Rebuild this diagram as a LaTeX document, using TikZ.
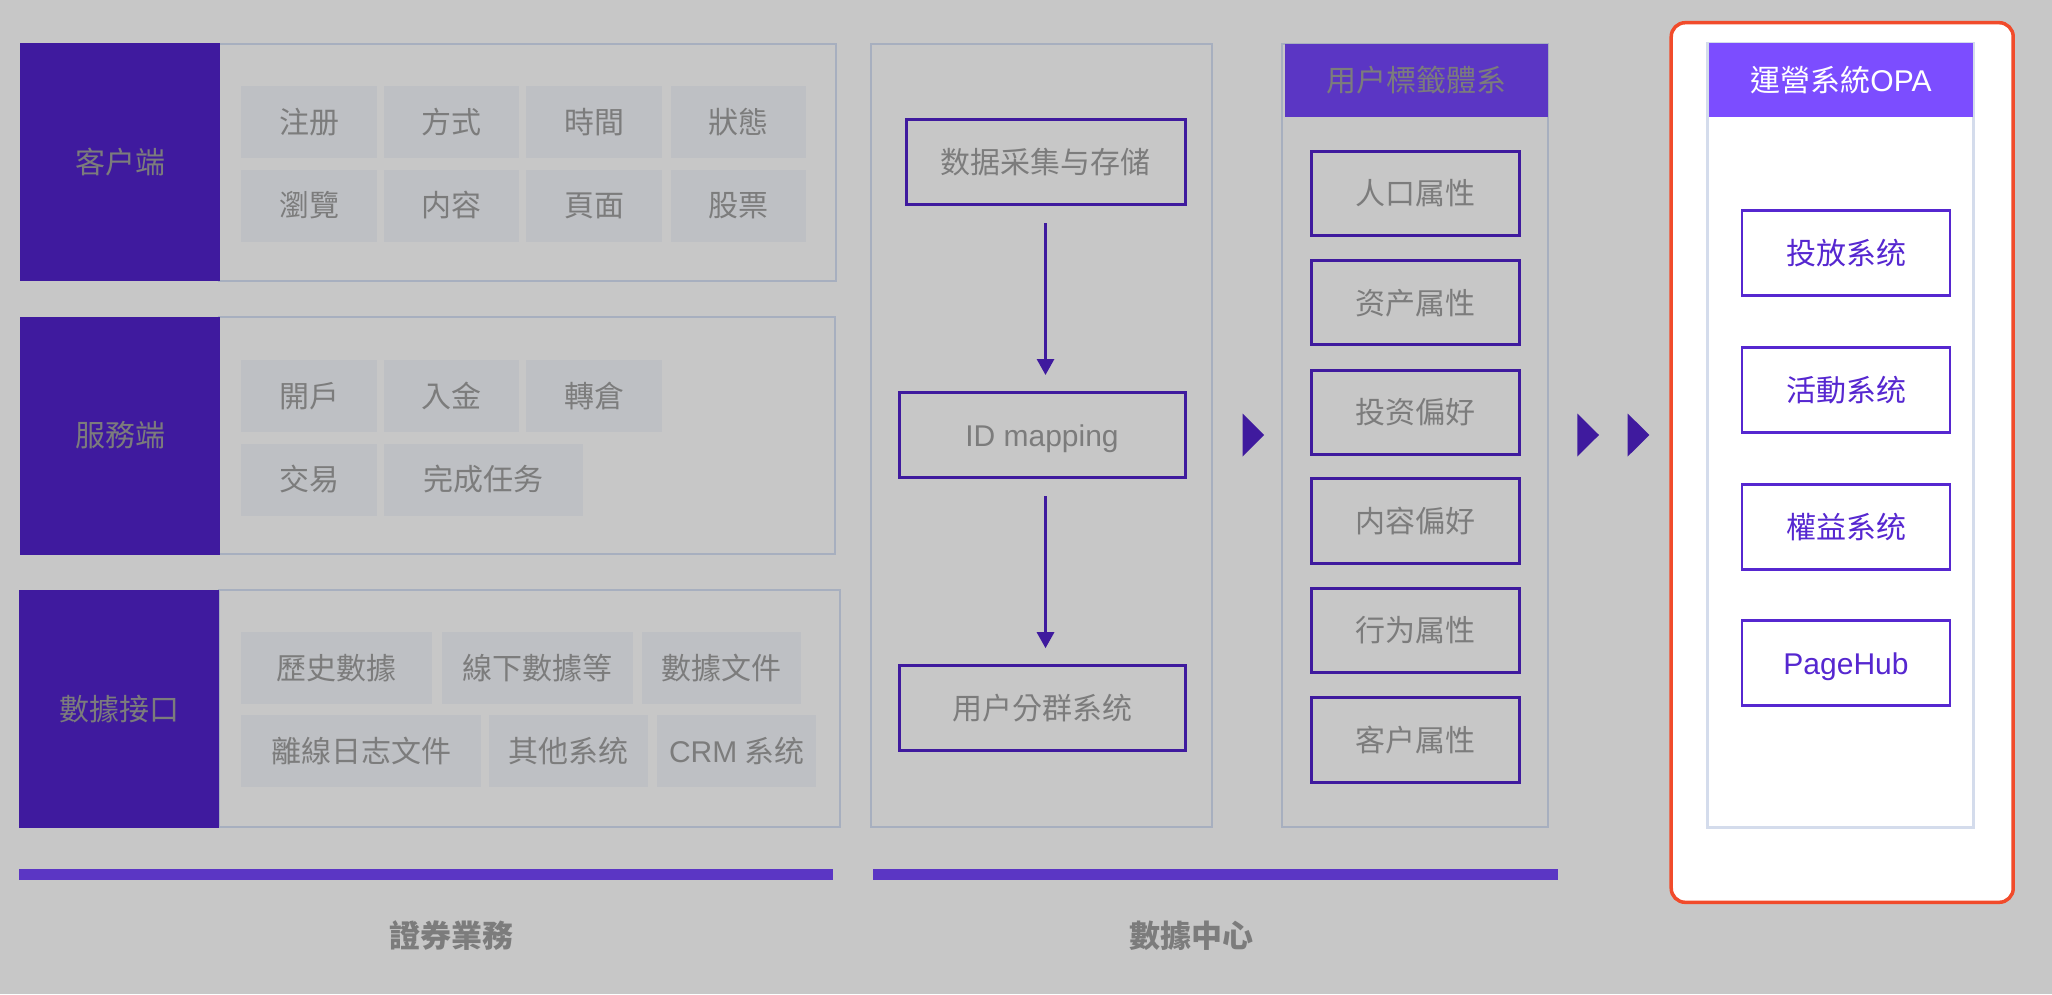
\documentclass[tikz,border=0pt]{standalone}
\usepackage{fontspec}
\setmainfont{Liberation Sans}
\newfontfamily\cjk{Noto Sans CJK TC}
\newfontfamily\latin{Liberation Sans}
\usetikzlibrary{arrows.meta}

\definecolor{bgc}{HTML}{C7C7C7}
\definecolor{deep}{HTML}{3F1A9E}
\definecolor{framec}{HTML}{A7AFBF}
\definecolor{cellc}{HTML}{BEC0C4}
\definecolor{txt}{HTML}{7C7C7C}
\definecolor{barc}{HTML}{5B36C4}
\definecolor{redc}{HTML}{F14B2B}
\definecolor{panelc}{HTML}{D4DCEC}
\definecolor{opahead}{HTML}{7C4DFF}
\definecolor{opabox}{HTML}{5627D0}

\tikzset{
  txtfont/.style={font=\cjk\fontsize{30}{36}\selectfont},
  latinline/.style={text height=23pt, text depth=0pt},
  side/.style={fill=deep, inner sep=0, minimum width=200, text=txt, txtfont},
  frame/.style={draw=framec, line width=2.5pt, inner sep=0},
  cell/.style={fill=cellc, inner sep=0, minimum height=72, text=txt, txtfont},
  flowbox/.style={draw=deep, line width=3pt, inner sep=0, minimum height=85, text=txt, txtfont},
  tagbox/.style={draw=deep, line width=3pt, inner sep=0, minimum width=208, minimum height=84.5, text=txt, txtfont},
  headbar/.style={inner sep=0, minimum height=73, txtfont},
  groundbar/.style={fill=barc, inner sep=0, minimum height=11},
  grouplabel/.style={text=txt, font=\cjk\fontsize{31}{36}\selectfont\bfseries},
  opabx/.style={draw=opabox, line width=2.8pt, fill=white, inner sep=0, minimum width=208, minimum height=85, text=opabox, txtfont},
  flowarrow/.style={draw=deep, line width=3pt, -{Triangle[width=17pt,length=16pt]}, shorten <=17pt, shorten >=16pt},
  marker/.style={fill=deep},
}

\begin{document}
\begin{tikzpicture}[x=1pt,y=-1pt]
\fill[bgc] (0,0) rectangle (2052,994);
\useasboundingbox (0,0) rectangle (2052,994);

% ---- client side ----
\node[frame, minimum width=617, minimum height=237] (frA) at (527.5,162.5) {};
\node[side, minimum height=238] (sideA) at (120,162) {客户端};
\node[cell, minimum width=135.5] (a1) at (309,122.4) {注册};
\node[cell, minimum width=135.5] (a2) at (451.5,122.4) {方式};
\node[cell, minimum width=135.5] (a3) at (594,122.4) {時間};
\node[cell, minimum width=135.5] (a4) at (738.5,122.4) {狀態};
\node[cell, minimum width=135.5] (a5) at (309,205.5) {瀏覽};
\node[cell, minimum width=135.5] (a6) at (451.5,205.5) {内容};
\node[cell, minimum width=135.5] (a7) at (594,205.5) {頁面};
\node[cell, minimum width=135.5] (a8) at (738.5,205.5) {股票};

% ---- service side ----
\node[frame, minimum width=616, minimum height=237] (frB) at (527,435.5) {};
\node[side, minimum height=238] (sideB) at (120,435.5) {服務端};
\node[cell, minimum width=135.5] (b1) at (309,396) {開戶};
\node[cell, minimum width=135.5] (b2) at (451.5,396) {入金};
\node[cell, minimum width=135.5] (b3) at (594,396) {轉倉};
\node[cell, minimum width=135.5] (b4) at (309,479.5) {交易};
\node[cell, minimum width=199] (b5) at (483,479.5) {完成任务};

% ---- data interfaces ----
\node[frame, minimum width=621, minimum height=237] (frC) at (529.5,708.5) {};
\node[side, minimum height=238] (sideC) at (119,709) {數據接口};
\node[cell, minimum width=191.5] (c1) at (336.7,668) {歷史數據};
\node[cell, minimum width=191] (c2) at (537,668) {線下數據等};
\node[cell, minimum width=159.3] (c3) at (721.3,668) {數據文件};
\node[cell, minimum width=240] (c4) at (361,751) {離線日志文件};
\node[cell, minimum width=158.8] (c5) at (568.8,751) {其他系统};
\node[cell, minimum width=159.3] (c6) at (736.6,751) {{\latin CRM} 系统};

\node[groundbar, minimum width=814] (barL) at (426,874.5) {};
\node[grouplabel] (lblL) at (451.5,936) {證券業務};

% ---- data centre: pipeline ----
\node[frame, minimum width=341, minimum height=783] (frM) at (1041.5,435.5) {};
\node[flowbox, minimum width=279] (m1) at (1045.5,162.3) {数据采集与存储};
\node[flowbox, latinline, minimum width=286] (m2) at (1042,435) {\latin ID mapping};
\node[flowbox, minimum width=286] (m3) at (1042,708.2) {用户分群系统};
\draw[flowarrow] (m1.south) -- (m1.south |- m2.north);
\draw[flowarrow] (m1.south |- m2.south) -- (m1.south |- m3.north);

% ---- data centre: tag system ----
\node[frame, minimum width=266, minimum height=783] (frT) at (1415,435.5) {};
\node[headbar, fill=barc, minimum width=263, minimum height=72.7, text=txt] (tHead) at (1416.5,80.3) {用户標籤體系};
\node[tagbox] (t1) at (1415,193.3) {人口属性};
\node[tagbox] (t2) at (1415,302.7) {资产属性};
\node[tagbox] (t3) at (1415,412.3) {投资偏好};
\node[tagbox] (t4) at (1415,521.2) {内容偏好};
\node[tagbox] (t5) at (1415,630.5) {行为属性};
\node[tagbox] (t6) at (1415,740) {客户属性};

\node[groundbar, minimum width=685] (barM) at (1215,874.5) {};
\node[grouplabel] (lblM) at (1191.5,936) {數據中心};

% ---- flow markers ----
\fill[marker] (1242.6,413.5) -- (1264,435) -- (1242.6,456.5) -- cycle;
\fill[marker] (1577.3,413.5) -- (1599,435) -- (1577.3,456.5) -- cycle;
\fill[marker] (1627.7,413.5) -- (1649.3,435) -- (1627.7,456.5) -- cycle;

% ---- operation system ----
\node[draw=redc, line width=3.5pt, fill=white, rounded corners=14pt, inner sep=0,
      minimum width=342, minimum height=879.6] (opaOuter) at (1842.2,462.5) {};
\node[draw=panelc, line width=2.7pt, inner sep=0, minimum width=266, minimum height=784.4] (opaPanel) at (1840.2,435.5) {};
\node[headbar, fill=opahead, minimum width=264, minimum height=73.4, text=white] (opaHead) at (1841,80) {運營系統{\latin OPA}};
\node[opabx] (o1) at (1846,253.3) {投放系统};
\node[opabx] (o2) at (1846,390.3) {活動系统};
\node[opabx] (o3) at (1846,527.1) {權益系统};
\node[opabx, latinline] (o4) at (1846,663.2) {\latin PageHub};
\end{tikzpicture}
\end{document}
